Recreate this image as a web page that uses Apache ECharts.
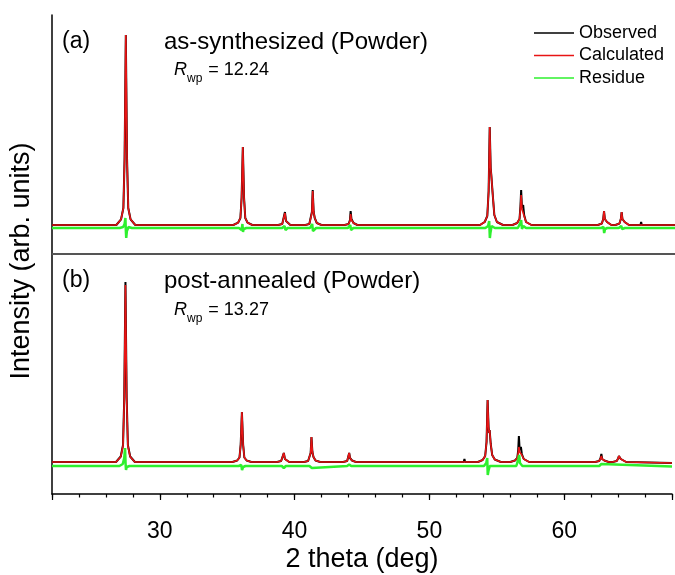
<!DOCTYPE html>
<html>
<head>
<meta charset="utf-8">
<script src="https://cdn.jsdelivr.net/npm/echarts@6/dist/echarts.min.js"></script>
<style>
  html, body { margin: 0; padding: 0; background: #fff; }
  #chart { width: 675px; height: 575px; }
</style>
</head>
<body>
<div id="chart"></div>
<script>
// 2 theta range and tick labels
const xRange = [22, 68];
const majorTicks = [30, 40, 50, 60];

const legendNames = ['Observed', 'Calculated', 'Residue'];

// (a) as-synthesized : [2theta, intensity]
const observedA = [
  [22, 29],
  [26.75, 29], [27.1, 34.7], [27.27, 46], [27.36, 95.5], [27.45, 219], [27.54, 95.5], [27.63, 46], [27.8, 34.7], [28.15, 29],
  [35.39, 29], [35.74, 31.3], [35.91, 36], [36.0, 56.3], [36.09, 107], [36.18, 56.3], [36.27, 36], [36.44, 31.3], [36.79, 29],
  [38.7, 29], [39.0, 30], [39.11, 32], [39.2, 42], [39.28, 33], [39.36, 31], [39.6, 29],
  [40.7, 29], [41.0, 30], [41.14, 32], [41.19, 42], [41.25, 64], [41.32, 42], [41.4, 36], [41.55, 31], [41.9, 29],
  [43.6, 29], [43.9, 30], [44.0, 34], [44.05, 43], [44.11, 35], [44.17, 35], [44.26, 31], [44.55, 29],
  [53.6, 29], [53.95, 32], [54.14, 38], [54.24, 63], [54.32, 127], [54.39, 86], [54.43, 80], [54.47, 82], [54.55, 58], [54.66, 39], [54.85, 32], [55.3, 29],
  [56.0, 29], [56.35, 31], [56.52, 35], [56.59, 48], [56.64, 64], [56.7, 46], [56.75, 45], [56.79, 49], [56.86, 39], [57.0, 32], [57.4, 29],
  [62.3, 29], [62.6, 30.5], [62.7, 35], [62.76, 43], [62.82, 35], [62.9, 36], [62.98, 32], [63.3, 29],
  [63.6, 29], [63.9, 30.5], [64.0, 35], [64.06, 42], [64.12, 35], [64.2, 35], [64.28, 32], [64.6, 29],
  [65.45, 29], [65.5, 32], [65.55, 29],
  [68, 29]
];
const calculatedA = [
  [22, 29],
  [26.75, 29], [27.1, 34.7], [27.27, 46], [27.36, 95.5], [27.45, 219], [27.54, 95.5], [27.63, 46], [27.8, 34.7], [28.15, 29],
  [35.39, 29], [35.74, 31.3], [35.91, 36], [36.0, 56.3], [36.09, 107], [36.18, 56.3], [36.27, 36], [36.44, 31.3], [36.79, 29],
  [38.7, 29], [39.0, 30], [39.11, 32], [39.2, 41], [39.28, 33], [39.36, 31], [39.6, 29],
  [40.7, 29], [41.0, 30], [41.14, 32], [41.19, 41], [41.25, 63], [41.32, 42], [41.4, 36], [41.55, 31], [41.9, 29],
  [43.6, 29], [43.9, 30], [44.0, 33], [44.05, 40], [44.11, 34], [44.17, 35], [44.26, 31], [44.55, 29],
  [53.6, 29], [53.95, 32], [54.14, 38], [54.24, 63], [54.32, 127], [54.39, 86], [54.43, 80], [54.47, 82], [54.55, 58], [54.66, 39], [54.85, 32], [55.3, 29],
  [56.0, 29], [56.35, 31], [56.52, 35], [56.59, 46], [56.64, 59], [56.7, 45], [56.75, 44], [56.79, 47], [56.86, 38], [57.0, 32], [57.4, 29],
  [62.3, 29], [62.6, 30.5], [62.7, 35], [62.76, 43], [62.82, 35], [62.9, 36], [62.98, 32], [63.3, 29],
  [63.6, 29], [63.9, 30.5], [64.0, 35], [64.06, 42], [64.12, 35], [64.2, 35], [64.28, 32], [64.6, 29],
  [68, 29]
];
const residueA = [
  [22, 26],
  [27.0, 26], [27.25, 27], [27.36, 30], [27.42, 36], [27.45, 24], [27.48, 16], [27.53, 23], [27.65, 27], [27.9, 26],
  [35.8, 26], [36.0, 24], [36.06, 30], [36.1, 22], [36.16, 25], [36.35, 26],
  [39.0, 26], [39.17, 28], [39.24, 24], [39.4, 26],
  [41.05, 26], [41.21, 30], [41.27, 23], [41.33, 25], [41.5, 26],
  [43.85, 26], [44.02, 29], [44.08, 24], [44.25, 26],
  [54.0, 26], [54.2, 28], [54.28, 33], [54.33, 16], [54.37, 21], [54.46, 28], [54.7, 26],
  [56.4, 26], [56.58, 31], [56.64, 34], [56.7, 25], [56.8, 28], [57.0, 26],
  [62.55, 26], [62.72, 27], [62.77, 21], [62.84, 25], [63.0, 26],
  [63.85, 26], [64.03, 28], [64.1, 25], [64.3, 26],
  [68, 26]
];

// (b) post-annealed
const observedB = [
  [22, 32],
  [26.75, 32], [27.1, 37.5], [27.27, 49], [27.36, 96], [27.45, 212], [27.54, 96], [27.63, 49], [27.8, 37.5], [28.15, 32],
  [35.39, 32], [35.74, 33.5], [35.91, 36.5], [36.0, 49.5], [36.09, 82], [36.18, 49.5], [36.27, 36.5], [36.44, 33.5], [36.79, 32],
  [38.7, 32], [39.0, 33], [39.11, 34.5], [39.2, 41], [39.28, 35], [39.36, 33.5], [39.6, 32],
  [40.7, 32], [41.0, 33], [41.14, 34.5], [41.19, 41], [41.25, 57], [41.32, 42], [41.4, 37], [41.55, 33.5], [41.9, 32],
  [43.6, 32], [43.9, 33], [44.0, 35], [44.05, 41], [44.11, 36], [44.17, 36], [44.26, 33.5], [44.55, 32],
  [52.55, 32], [52.6, 35], [52.65, 32],
  [53.6, 32], [53.95, 34], [54.14, 38], [54.24, 52], [54.32, 94], [54.39, 67], [54.43, 61], [54.47, 64], [54.55, 50], [54.66, 39], [54.85, 34.5], [55.3, 32],
  [56.0, 32], [56.35, 33.5], [56.52, 36], [56.59, 44], [56.64, 58], [56.7, 44], [56.75, 44], [56.79, 47], [56.86, 40], [57.0, 35], [57.4, 32],
  [62.3, 32], [62.6, 33], [62.7, 36], [62.76, 40], [62.82, 35], [62.9, 35], [62.98, 33.5], [63.3, 32],
  [63.6, 32], [63.9, 33], [64.0, 35.5], [64.06, 38], [64.12, 36], [64.2, 35], [64.28, 33.5], [64.6, 32],
  [68, 31]
];
const calculatedB = [
  [22, 32],
  [26.75, 32], [27.1, 37.3], [27.27, 48], [27.36, 94], [27.45, 209], [27.54, 94], [27.63, 48], [27.8, 37.3], [28.15, 32],
  [35.39, 32], [35.74, 33.5], [35.91, 36.5], [36.0, 49.5], [36.09, 82], [36.18, 49.5], [36.27, 36.5], [36.44, 33.5], [36.79, 32],
  [38.7, 32], [39.0, 33], [39.11, 34.5], [39.2, 41], [39.28, 35], [39.36, 33.5], [39.6, 32],
  [40.7, 32], [41.0, 33], [41.14, 34.5], [41.19, 41], [41.25, 57], [41.32, 42], [41.4, 37], [41.55, 33.5], [41.9, 32],
  [43.6, 32], [43.9, 33], [44.0, 35], [44.05, 41], [44.11, 36], [44.17, 36], [44.26, 33.5], [44.55, 32],
  [53.6, 32], [53.95, 34], [54.14, 38], [54.24, 52], [54.32, 94], [54.39, 67], [54.43, 61], [54.47, 64], [54.55, 50], [54.66, 39], [54.85, 34.5], [55.3, 32],
  [56.0, 32], [56.35, 33.5], [56.52, 36], [56.59, 41], [56.64, 47], [56.7, 42], [56.75, 42], [56.79, 44], [56.86, 39], [57.0, 35], [57.4, 32],
  [62.3, 32], [62.6, 33], [62.7, 35.5], [62.76, 38], [62.82, 35], [62.9, 35], [62.98, 33.5], [63.3, 32],
  [63.6, 32], [63.9, 33], [64.0, 35.5], [64.06, 38], [64.12, 36], [64.2, 35], [64.28, 33.5], [64.6, 32],
  [68, 31]
];
const residueB = [
  [22, 28],
  [27.0, 28], [27.25, 30], [27.36, 36], [27.42, 46], [27.46, 30], [27.49, 24], [27.55, 27], [27.75, 28],
  [35.85, 28], [36.04, 29], [36.1, 24], [36.18, 27], [36.35, 28],
  [39.05, 28], [39.2, 26], [39.35, 28],
  [41.1, 28], [41.22, 29.5], [41.28, 26], [41.4, 28],
  [43.9, 28], [44.05, 29.5], [44.2, 28],
  [54.05, 28], [54.22, 31], [54.29, 36], [54.33, 19], [54.38, 23], [54.48, 28],
  [56.45, 28], [56.6, 35], [56.66, 39], [56.72, 31], [56.9, 28],
  [62.6, 28], [62.76, 30], [62.9, 28],
  [68, 27.5]
];

const panels = [
  { label: '(a)', sample: 'as-synthesized (Powder)', rwp: '12.24', obs: observedA, calc: calculatedA, res: residueA },
  { label: '(b)', sample: 'post-annealed (Powder)', rwp: '13.27', obs: observedB, calc: calculatedB, res: residueB }
];

const FONT = '"Liberation Sans", Arial, sans-serif';
const colors = { obs: '#000000', calc: '#e81414', res: '#2ef02e' };

const chart = echarts.init(document.getElementById('chart'), null, { renderer: 'canvas' });

const plainAxis = {
  type: 'value',
  min: xRange[0],
  max: xRange[1],
  axisTick: { show: false },
  axisLabel: { show: false },
  splitLine: { show: false }
};

const series = [];
panels.forEach((p, i) => {
  const axisIdx = i === 0 ? 1 : 2;
  series.push(
    {
      name: 'Observed', type: 'line', xAxisIndex: axisIdx, yAxisIndex: i, data: p.obs,
      showSymbol: false, symbol: 'none', lineStyle: { color: colors.obs, width: 2 }, itemStyle: { color: colors.obs }
    },
    {
      name: 'Calculated', type: 'line', xAxisIndex: axisIdx, yAxisIndex: i, data: p.calc,
      showSymbol: false, symbol: 'none', lineStyle: { color: colors.calc, width: 1.6 }, itemStyle: { color: colors.calc }
    },
    {
      name: 'Residue', type: 'line', xAxisIndex: axisIdx, yAxisIndex: i, data: p.res,
      showSymbol: false, symbol: 'none', lineStyle: { color: colors.res, width: 2.5 }, itemStyle: { color: colors.res }
    }
  );
});

const panelTexts = [];
const textTops = [[42, 70], [281, 310]];
panels.forEach((p, i) => {
  panelTexts.push(
    {
      type: 'text', x: 62, y: textTops[i][0],
      style: { text: p.label, fontSize: 23, fontFamily: FONT, fill: '#000', verticalAlign: 'middle' }
    },
    {
      type: 'text', x: 164, y: textTops[i][0],
      style: { text: p.sample, fontSize: 24, fontFamily: FONT, fill: '#000', verticalAlign: 'middle' }
    },
    {
      type: 'text', x: 174, y: textTops[i][1] - 9,
      style: {
        text: '{r|R}{s|wp}{n| = ' + p.rwp + '}',
        fontFamily: FONT,
        fill: '#000',
        verticalAlign: 'top',
        rich: {
          r: { fontSize: 18, fontStyle: 'italic', fontFamily: FONT, lineHeight: 18, verticalAlign: 'top' },
          s: { fontSize: 12, fontFamily: FONT, lineHeight: 12, padding: [12, 1, 0, 0], verticalAlign: 'top' },
          n: { fontSize: 18, fontFamily: FONT, lineHeight: 18, verticalAlign: 'top' }
        }
      }
    }
  );
});

const option = {
  animation: false,
  backgroundColor: '#fff',
  textStyle: { fontFamily: FONT },
  grid: [
    { left: 52, width: 626, top: 15, height: 239 },
    { left: 52, width: 626, top: 254, height: 240 }
  ],
  legend: {
    data: legendNames,
    orient: 'vertical',
    left: 534,
    top: 24,
    padding: 0,
    icon: 'rect',
    itemWidth: 40,
    itemHeight: 1.5,
    itemGap: 4.5,
    selectedMode: false,
    textStyle: { fontSize: 18, lineHeight: 18, color: '#000', fontFamily: FONT }
  },
  xAxis: [
    Object.assign({}, plainAxis, {
      gridIndex: 0, position: 'top',
      axisLine: { show: true, lineStyle: { color: '#000', width: 1.5 } }
    }),
    Object.assign({}, plainAxis, {
      gridIndex: 0, position: 'bottom',
      axisLine: { show: true, lineStyle: { color: '#555', width: 2 } }
    }),
    {
      type: 'value', gridIndex: 1, position: 'bottom',
      min: xRange[0], max: xRange[1], splitNumber: 5,
      axisLine: { show: true, onZero: false, lineStyle: { color: '#000', width: 1.5 } },
      axisTick: { show: true, inside: false, length: 6, lineStyle: { color: '#000', width: 1.2 } },
      axisLabel: {
        fontSize: 23, color: '#000', fontFamily: FONT, margin: 26,
        formatter: v => (majorTicks.indexOf(v) >= 0 ? String(v) : '')
      },
      splitLine: { show: false },
      name: '2 theta (deg)',
      nameLocation: 'middle',
      nameGap: 52,
      nameTextStyle: { fontSize: 27, color: '#000', fontFamily: FONT }
    },
    {
      type: 'value', gridIndex: 1, position: 'bottom',
      min: xRange[0], max: xRange[1], interval: 2,
      axisLine: { show: false },
      axisTick: { show: true, inside: false, length: 3.5, lineStyle: { color: '#000', width: 1.2 } },
      axisLabel: { show: false },
      splitLine: { show: false }
    }
  ],
  yAxis: [
    {
      type: 'value', gridIndex: 0, min: 0, max: 239,
      axisLine: { show: true, onZero: false, lineStyle: { color: '#000', width: 1.5 } },
      axisTick: { show: false }, axisLabel: { show: false }, splitLine: { show: false }
    },
    {
      type: 'value', gridIndex: 1, min: 0, max: 240,
      axisLine: { show: true, onZero: false, lineStyle: { color: '#000', width: 1.5 } },
      axisTick: { show: false }, axisLabel: { show: false }, splitLine: { show: false }
    }
  ],
  graphic: panelTexts.concat([
    {
      type: 'text', x: 22, y: 261, rotation: Math.PI / 2,
      style: {
        text: 'Intensity (arb. units)', fontSize: 27, fontFamily: FONT, fill: '#000',
        align: 'center', verticalAlign: 'middle'
      }
    }
  ]),
  series: series
};

chart.setOption(option);
</script>
</body>
</html>
